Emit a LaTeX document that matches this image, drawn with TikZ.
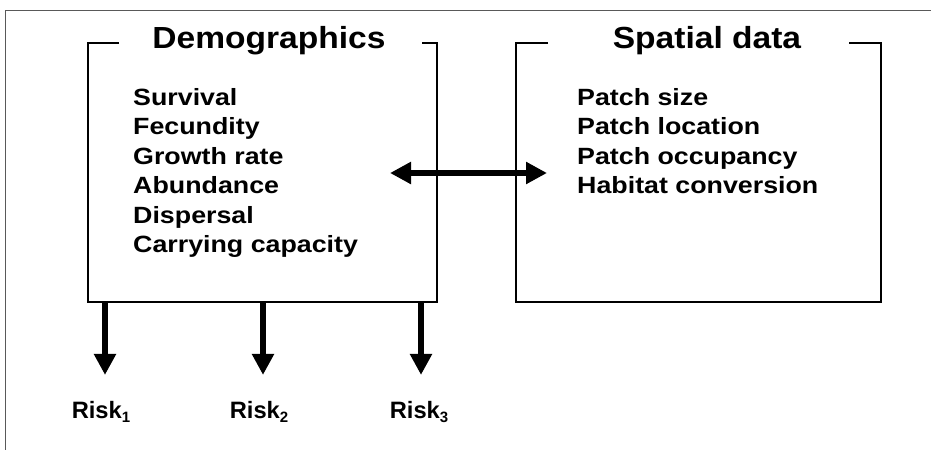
\documentclass[tikz,border=0pt]{standalone}
\usepackage{fontspec}
\setmainfont{Liberation Sans}
\newfontfamily\boxfont{Liberation Sans}[FakeStretch=1.14]
\newfontfamily\headfont{Liberation Sans}[FakeStretch=1.10]
\usetikzlibrary{arrows.meta}
\newcommand{\risksub}[1]{\raisebox{-4.5pt}{\fontsize{15}{15}\selectfont\bfseries #1}}
\tikzset{
  panel/.style={inner sep=0pt, outer sep=0pt},
  item/.style={anchor=base west, inner sep=0pt, font=\boxfont\bfseries\fontsize{23.5}{28}\selectfont},
  head/.style={anchor=base, inner sep=0pt, font=\headfont\bfseries\fontsize{30.5}{36}\selectfont},
  risk/.style={anchor=base, inner sep=0pt, font=\bfseries\fontsize{23.7}{28}\selectfont},
  edge/.style={line width=1.5pt, line join=miter},
  bigarrow/.style={line width=6pt, -{Triangle[width=21pt,length=21pt]}},
  twoway/.style={line width=6pt, {Triangle[width=21pt,length=21pt]}-{Triangle[width=21pt,length=21pt]}},
}

\begin{document}
\begin{tikzpicture}[x=1pt,y=-1pt]
    \useasboundingbox (0,0) rectangle (931,450);
    \draw[black!65, line width=1pt] (931,10) -- (5,10) -- (5,450);

    % the two panels
    \node[panel, minimum width=349pt, minimum height=259pt] (demo) at (262.5,172.5) {};
    \node[panel, minimum width=365pt, minimum height=259pt] (spat) at (698.5,172.5) {};
    \draw[edge] ([xshift=31pt]demo.north west) -- (demo.north west) -- (demo.south west)
        -- (demo.south east) -- (demo.north east) -- ([xshift=-15pt]demo.north east);
    \draw[edge] ([xshift=32pt]spat.north west) -- (spat.north west) -- (spat.south west)
        -- (spat.south east) -- (spat.north east) -- ([xshift=-32pt]spat.north east);
    \node[head] (demotitle) at (269,48) {Demographics};
    \node[head] (spattitle) at (707,48) {Spatial data};

    % contents
    \foreach \txt [count=\i] in {Survival, Fecundity, Growth rate, Abundance, Dispersal, Carrying capacity}
        \node[item] (d\i) at (133,105+29.5*\i-29.5) {\txt};
    \foreach \txt [count=\i] in {Patch size, Patch location, Patch occupancy, Habitat conversion}
        \node[item] (s\i) at (577,105+29.5*\i-29.5) {\txt};

    \coordinate (la) at (390,173);
    \coordinate (ra) at (547,173);
    \draw[twoway] (la) -- (ra);

    % risks
    \node[risk] (risk1) at (101,418) {Risk\risksub{1}};
    \node[risk] (risk2) at (259,418) {Risk\risksub{2}};
    \node[risk] (risk3) at (419,418) {Risk\risksub{3}};
    \coordinate (a1) at ([xshift=17pt]demo.south west);
    \coordinate (a2) at ([xshift=175pt]demo.south west);
    \coordinate (a3) at ([xshift=333pt]demo.south west);
    \foreach \i in {1,2,3}
        \draw[bigarrow, shorten >=25.7pt] (a\i) -- (a\i |- risk\i.north);
\end{tikzpicture}
\end{document}
